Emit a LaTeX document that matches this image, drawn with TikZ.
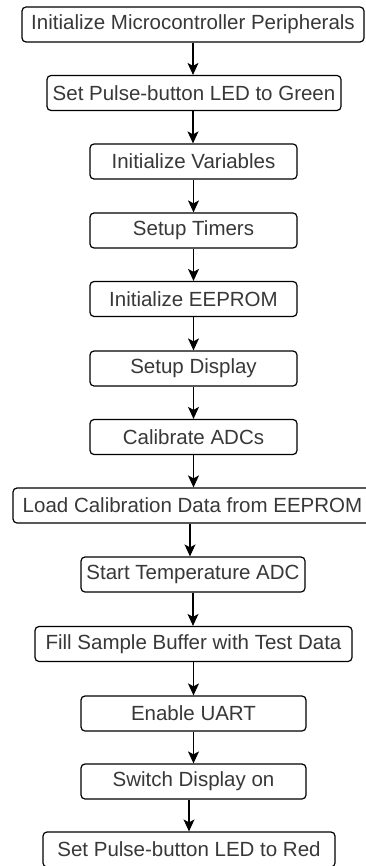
\documentclass[tikz,border=0pt]{standalone}
\usepackage{fontspec}
\setmainfont{Liberation Sans}
\usetikzlibrary{arrows.meta}

\tikzset{
  stepbox/.style={draw=black, line width=1.2pt, rounded corners=4pt, fill=white,
    text=black!78, inner sep=0pt, minimum height=35pt,
    font=\fontsize{20.5pt}{24pt}\selectfont},
  arr/.style={draw=black, line width=1.2pt,
    -{Stealth[length=12pt, width=11pt, inset=3pt]}},
}

\begin{document}
\begin{tikzpicture}[x=1pt, y=1pt]
  \useasboundingbox (0,0) rectangle (366,-866);

  % process steps, top to bottom
  \node[stepbox, minimum width=342pt] (n1)  at (193,-24.5)   {Initialize Microcontroller Peripherals};
  \node[stepbox, minimum width=294pt] (n2)  at (194,-93)     {Set Pulse-button LED to Green};
  \node[stepbox, minimum width=207pt] (n3)  at (193.5,-161.5) {Initialize Variables};
  \node[stepbox, minimum width=207pt] (n4)  at (193.5,-230.5) {Setup Timers};
  \node[stepbox, minimum width=207pt] (n5)  at (193.5,-299)   {Initialize EEPROM};
  \node[stepbox, minimum width=207pt] (n6)  at (193.5,-368.5) {Setup Display};
  \node[stepbox, minimum width=207pt] (n7)  at (193.5,-437)   {Calibrate ADCs};
  \node[stepbox, minimum width=359pt] (n8)  at (192.5,-505.5) {Load Calibration Data from EEPROM};
  \node[stepbox, minimum width=224pt] (n9)  at (193,-574.5)   {Start Temperature ADC};
  \node[stepbox, minimum width=317pt] (n10) at (193.5,-644)   {Fill Sample Buffer with Test Data};
  \node[stepbox, minimum width=225pt] (n11) at (193.5,-713.5) {Enable UART};
  \node[stepbox, minimum width=225pt] (n12) at (193.5,-781.5) {Switch Display on};
  \node[stepbox, minimum width=292pt] (n13) at (189,-849.5)   {Set Pulse-button LED to Red};

  % connectors
  \draw[arr] (n1.south) -- (n1.south |- n2.north);
  \draw[arr] (n2.south -| n1.south) -- (n1.south |- n3.north);
  \draw[arr] (n3.south) -- (n3.south |- n4.north);
  \draw[arr] (n4.south) -- (n4.south |- n5.north);
  \draw[arr] (n5.south) -- (n5.south |- n6.north);
  \draw[arr] (n6.south) -- (n6.south |- n7.north);
  \draw[arr] (n7.south) -- (n7.south |- n8.north);
  \draw[arr] ([xshift=-2.5pt]n8.south) -- ([xshift=-2.5pt]n8.south |- n9.north);
  \draw[arr] (n9.south) -- (n9.south |- n10.north);
  \draw[arr] (n10.south) -- (n10.south |- n11.north);
  \draw[arr] (n11.south) -- (n11.south |- n12.north);
  \draw[arr] (n12.south -| n13.north) -- (n13.north);
\end{tikzpicture}
\end{document}
